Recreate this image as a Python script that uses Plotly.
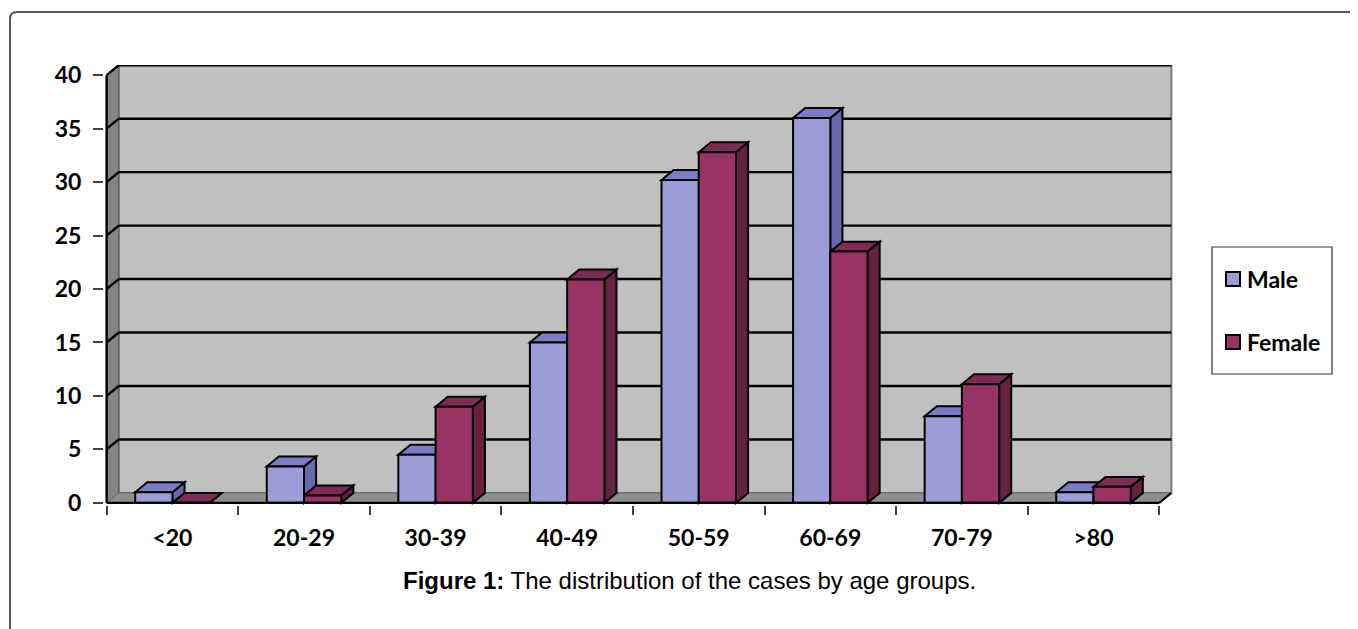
import plotly.graph_objects as go

# ---------------- data ----------------
categories = ["<20", "20-29", "30-39", "40-49", "50-59", "60-69", "70-79", ">80"]
male = [1.0, 3.4, 4.5, 15.0, 30.2, 36.0, 8.1, 1.0]
female = [0.0, 0.7, 9.0, 20.9, 32.8, 23.5, 11.1, 1.5]
series_names = ["Male", "Female"]
y_ticks = [0, 5, 10, 15, 20, 25, 30, 35, 40]
caption_bold = "Figure 1:"
caption_rest = " The distribution of the cases by age groups."

# ---------------- style ----------------
OFF = 8                     # page body margin of the html page
FW, FH = 1358 - OFF, 629 - OFF
L, R, T, B = 104 - OFF, 184, 65 - OFF, 124
PW, PH = FW - L - R, FH - T - B
BOTTOM_PX = FH - B

BAR_W = 0.283          # width of each bar (category units)
DX, DY = 0.092, 0.93   # 3-D depth offset (x in category units, y in value units)
YMAX = max(y_ticks)
n = len(categories)

MALE_COLS = dict(front="#9c9cd8", side="#6868ac", top="#7c7cc6")
FEMALE_COLS = dict(front="#993366", side="#66213f", top="#7e2b55")
WALL = "#c0c0c0"
SIDE_WALL = "#858585"
FLOOR = "#8e8e8e"

FONT_TICK = dict(family="Lato, Open Sans, sans-serif", size=23, color="black")


def pxx(p):
    """reference-image pixel x -> paper x"""
    return (p - OFF - L) / PW


def pyy(p):
    """reference-image pixel y -> paper y"""
    return (BOTTOM_PX - (p - OFF)) / PH


fig = go.Figure()

series = [(series_names[0], male, -BAR_W, MALE_COLS),
          (series_names[1], female, 0.0, FEMALE_COLS)]

xs = list(range(n))
for name, vals, off, cols in series:
    fig.add_trace(go.Bar(
        x=xs, y=vals, name=name, offset=off, width=BAR_W,
        marker=dict(color=cols["front"], line=dict(color="black", width=2)),
        showlegend=False,
    ))

shapes = []
x_left, x_right = -0.5, n - 0.5

# back wall
shapes.append(dict(type="rect", xref="x", yref="y", layer="below",
                   x0=x_left + DX, x1=x_right + DX, y0=DY, y1=YMAX + DY,
                   fillcolor=WALL, line=dict(color="#7a7a7a", width=2)))
# left side wall
shapes.append(dict(type="path", xref="x", yref="y", layer="below",
                   path=f"M {x_left},0 L {x_left+DX},{DY} L {x_left+DX},{YMAX+DY} L {x_left},{YMAX} Z",
                   fillcolor=SIDE_WALL, line=dict(color="#555555", width=1)))
# floor
shapes.append(dict(type="path", xref="x", yref="y", layer="below",
                   path=f"M {x_left},0 L {x_right},0 L {x_right+DX},{DY} L {x_left+DX},{DY} Z",
                   fillcolor=FLOOR, line=dict(color="#6a6a6a", width=1)))
# floor right edge
shapes.append(dict(type="line", xref="x", yref="y", layer="below",
                   x0=x_right, y0=0, x1=x_right + DX, y1=DY,
                   line=dict(color="black", width=2)))
# gridlines on back + side walls
for v in y_ticks[1:]:
    shapes.append(dict(type="line", xref="x", yref="y", layer="below",
                       x0=x_left + DX, x1=x_right + DX, y0=v + DY, y1=v + DY,
                       line=dict(color="black", width=2.4)))
    shapes.append(dict(type="line", xref="x", yref="y", layer="below",
                       x0=x_left, x1=x_left + DX, y0=v, y1=v + DY,
                       line=dict(color="black", width=2.4)))

# bar side / top faces (male first, female after: female faces are nearer)
for name, vals, off, cols in series:
    for i, v in enumerate(vals):
        x0 = i + off
        x1 = x0 + BAR_W
        shapes.append(dict(type="path", xref="x", yref="y", layer="below",
                           path=f"M {x1},0 L {x1+DX},{DY} L {x1+DX},{v+DY} L {x1},{v} Z",
                           fillcolor=cols["side"], line=dict(color="black", width=2)))
        shapes.append(dict(type="path", xref="x", yref="y", layer="below",
                           path=f"M {x0},{v} L {x1},{v} L {x1+DX},{v+DY} L {x0+DX},{v+DY} Z",
                           fillcolor=cols["top"], line=dict(color="black", width=2)))

# front axis lines
shapes.append(dict(type="line", xref="x", yref="y", layer="above",
                   x0=x_left, x1=x_right, y0=0, y1=0, line=dict(color="black", width=2.4)))
shapes.append(dict(type="line", xref="x", yref="y", layer="above",
                   x0=x_left, x1=x_left, y0=0, y1=YMAX, line=dict(color="black", width=2.4)))

# legend (box, swatches)
shapes.append(dict(type="rect", xref="paper", yref="paper",
                   x0=pxx(1212), x1=pxx(1332), y0=pyy(374), y1=pyy(247),
                   line=dict(color="#333333", width=1.2), fillcolor="white"))
legend_rows = [(279, MALE_COLS["front"]), (342, FEMALE_COLS["front"])]
for yc, col in legend_rows:
    shapes.append(dict(type="rect", xref="paper", yref="paper",
                       x0=pxx(1226), x1=pxx(1240), y0=pyy(yc + 7), y1=pyy(yc - 7),
                       line=dict(color="black", width=2), fillcolor=col))

# outer rounded frame
shapes.append(dict(type="path", xref="paper", yref="paper",
                   path=(f"M {pxx(10)},{pyy(660)} L {pxx(10)},{pyy(19)} "
                         f"Q {pxx(10)},{pyy(12)} {pxx(17)},{pyy(12)} L {pxx(1400)},{pyy(12)}"),
                   line=dict(color="#555555", width=2)))

annotations = []
for (yc, _), name in zip(legend_rows, series_names):
    annotations.append(dict(xref="paper", yref="paper", x=pxx(1245), y=pyy(yc),
                            xanchor="left", yanchor="middle", showarrow=False,
                            text=f"<b>{name}</b>", font=FONT_TICK))

annotations.append(dict(xref="paper", yref="paper", x=pxx(689), y=pyy(580),
                        xanchor="center", yanchor="middle", showarrow=False,
                        text=f"<b>{caption_bold}</b>{caption_rest}",
                        font=dict(family="Liberation Sans, Arial, sans-serif", size=24, color="black")))

fig.update_layout(
    width=FW, height=FH,
    margin=dict(l=L, r=R, t=T, b=B, pad=0),
    paper_bgcolor="white", plot_bgcolor="white",
    barmode="overlay",
    shapes=shapes, annotations=annotations,
    showlegend=False,
    xaxis=dict(range=[x_left - 0.02, x_right + DX + 0.02],
               tickmode="array", tickvals=xs, ticktext=[f"<b>{c}</b>" for c in categories],
               ticks="", showgrid=False, zeroline=False, showline=False,
               tickfont=FONT_TICK, ticklabelstandoff=17,
               minor=dict(tickmode="array", tickvals=[i - 0.5 for i in range(n + 1)],
                          ticks="outside", ticklen=9, tickcolor="#444444", tickwidth=1.5,
                          showgrid=False)),
    yaxis=dict(range=[-0.2, YMAX + DY + 0.02],
               tickmode="array", tickvals=y_ticks, ticktext=[f"<b>{v}</b>" for v in y_ticks],
               ticks="outside", ticklen=10, tickcolor="#444444", tickwidth=1.5,
               showgrid=False, zeroline=False, showline=False,
               tickfont=FONT_TICK, ticklabelstandoff=7),
)

fig.write_html("out.html")
